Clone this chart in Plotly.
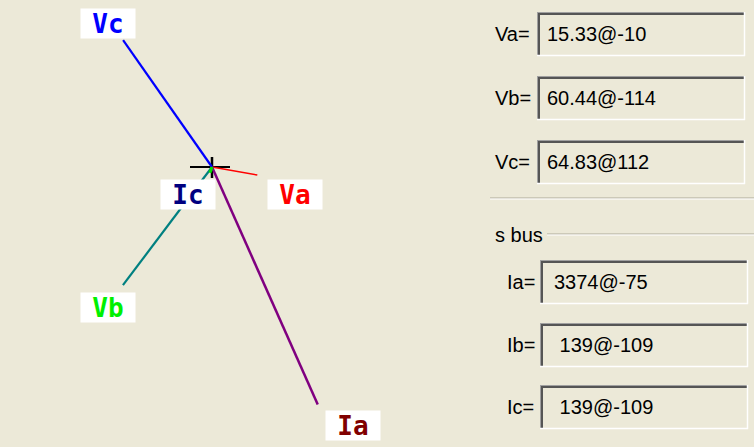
import math
import plotly.graph_objects as go

# ---------------- data ----------------
# phasors as drawn in the diagram (display length in px, drawn angle in degrees)
phasor_names = ["Va", "Vb", "Vc", "Ia", "Ic"]
phasor_labels = ["Va", "Vb", "Vc", "Ia", "Ic"]
drawn_length = [46, 148, 155, 260, 6]
drawn_angle = [-10, -127, 125, -66, -110]

# readouts on the right-hand panel
voltage_names = ["Va=", "Vb=", "Vc="]
voltage_values = ["15.33@-10", "60.44@-114", "64.83@112"]
current_names = ["Ia=", "Ib=", "Ic="]
current_values = ["3374@-75", " 139@-109", " 139@-109"]
group_title = "s bus"

# ---------------- styles ----------------
BG = "#ECE9D8"
W, H = 754, 447
ORIGIN_X, ORIGIN_Y = 212, 167          # pixel position of diagram origin
line_colors = ["#FF0000", "#008080", "#0000FF", "#800080", "#00E000"]
line_widths = [1.5, 2.2, 2.2, 2.5, 3]
label_colors = ["#FF0000", "#00F000", "#0000FF", "#800000", "#000080"]
label_shift = [(38, -20), (-15, -22), (-15, 17), (35, -21), (-22, -22)]

fig = go.Figure()

# origin cross
fig.add_trace(go.Scatter(x=[-22, 18], y=[0, 0], mode="lines",
                         line=dict(color="black", width=2), hoverinfo="skip", showlegend=False))
fig.add_trace(go.Scatter(x=[0, 0], y=[-11, 10], mode="lines",
                         line=dict(color="black", width=2.5), hoverinfo="skip", showlegend=False))

ends = []
for name, r, a, c, w in zip(phasor_names, drawn_length, drawn_angle, line_colors, line_widths):
    ex = r * math.cos(math.radians(a))
    ey = r * math.sin(math.radians(a))
    ends.append((ex, ey))
    fig.add_trace(go.Scatter(x=[0, ex], y=[0, ey], mode="lines", name=name,
                             line=dict(color=c, width=w), hoverinfo="skip", showlegend=False))

for (ex, ey), lab, col, (sx, sy) in zip(ends, phasor_labels, label_colors, label_shift):
    fig.add_annotation(x=ex, y=ey, xref="x", yref="y", text="<b>%s</b>" % lab,
                       showarrow=False, xshift=sx, yshift=sy,
                       font=dict(family="DejaVu Sans Mono", size=26, color=col),
                       bgcolor="white", width=50, height=25, borderpad=2, align="center")

# pixel-space overlay axes for the right panel
fig.add_trace(go.Scatter(x=[0], y=[0], xaxis="x2", yaxis="y2", mode="markers",
                         marker=dict(opacity=0), hoverinfo="skip", showlegend=False))

shapes = []


def sunken_box(x0, y0, x1, y1):
    shapes.append(dict(type="rect", xref="x2", yref="y2", x0=x0, y0=y0, x1=x1, y1=y1,
                       fillcolor=BG, line=dict(width=0), layer="below"))
    # dark top/left
    shapes.append(dict(type="line", xref="x2", yref="y2", x0=x0, y0=y0 + 0.5, x1=x1, y1=y0 + 0.5,
                       line=dict(color="#A0A0A0", width=1)))
    shapes.append(dict(type="line", xref="x2", yref="y2", x0=x0 + 0.5, y0=y0, x1=x0 + 0.5, y1=y1,
                       line=dict(color="#A0A0A0", width=1)))
    shapes.append(dict(type="line", xref="x2", yref="y2", x0=x0 + 1, y0=y0 + 2, x1=x1 - 1, y1=y0 + 2,
                       line=dict(color="#555555", width=2)))
    shapes.append(dict(type="line", xref="x2", yref="y2", x0=x0 + 2, y0=y0 + 1, x1=x0 + 2, y1=y1 - 1,
                       line=dict(color="#555555", width=2)))
    # light bottom/right
    shapes.append(dict(type="line", xref="x2", yref="y2", x0=x0, y0=y1 - 0.5, x1=x1, y1=y1 - 0.5,
                       line=dict(color="#FFFFFF", width=1.5)))
    shapes.append(dict(type="line", xref="x2", yref="y2", x0=x1 - 0.5, y0=y0, x1=x1 - 0.5, y1=y1,
                       line=dict(color="#FFFFFF", width=1.5)))


def etched(x0, x1, y):
    shapes.append(dict(type="line", xref="x2", yref="y2", x0=x0, y0=y, x1=x1, y1=y,
                       line=dict(color="#ACA899", width=1)))
    shapes.append(dict(type="line", xref="x2", yref="y2", x0=x0, y0=y + 1, x1=x1, y1=y + 1,
                       line=dict(color="#FFFFFF", width=1)))


panel_font = dict(family="Liberation Sans", size=20, color="black")

v_tops = [12, 76, 140]
for name, val, top in zip(voltage_names, voltage_values, v_tops):
    sunken_box(537, top, 745, top + 44)
    fig.add_annotation(x=493, y=top + 22, xref="x2", yref="y2", text=name, showarrow=False,
                       xanchor="left", yanchor="middle", font=panel_font)
    fig.add_annotation(x=545, y=top + 22, xref="x2", yref="y2", text=val, showarrow=False,
                       xanchor="left", yanchor="middle", font=panel_font)

etched(490, 754, 198)
etched(547, 754, 234)
fig.add_annotation(x=493, y=235, xref="x2", yref="y2", text=group_title, showarrow=False,
                   xanchor="left", yanchor="middle", font=panel_font)

c_tops = [260, 323, 385]
for name, val, top in zip(current_names, current_values, c_tops):
    sunken_box(540, top, 748, top + 44)
    fig.add_annotation(x=505, y=top + 22, xref="x2", yref="y2", text=name, showarrow=False,
                       xanchor="left", yanchor="middle", font=panel_font)
    fig.add_annotation(x=552, y=top + 22, xref="x2", yref="y2", text=val.replace(" ", "&nbsp;"),
                       showarrow=False, xanchor="left", yanchor="middle", font=panel_font)

axis_off = dict(visible=False, showgrid=False, zeroline=False, fixedrange=True)
fig.update_layout(
    width=W, height=H,
    margin=dict(l=0, r=0, t=0, b=0),
    paper_bgcolor=BG, plot_bgcolor=BG,
    xaxis=dict(range=[-ORIGIN_X, W - ORIGIN_X], domain=[0, 1], **axis_off),
    yaxis=dict(range=[ORIGIN_Y - H, ORIGIN_Y], domain=[0, 1], **axis_off),
    xaxis2=dict(range=[0, W], overlaying="x", **axis_off),
    yaxis2=dict(range=[H, 0], overlaying="y", **axis_off),
    shapes=shapes,
    showlegend=False,
)

fig.write_html("out.html", config={"displayModeBar": False},
               post_script="document.body.style.margin='0';document.body.style.overflow='hidden';")
